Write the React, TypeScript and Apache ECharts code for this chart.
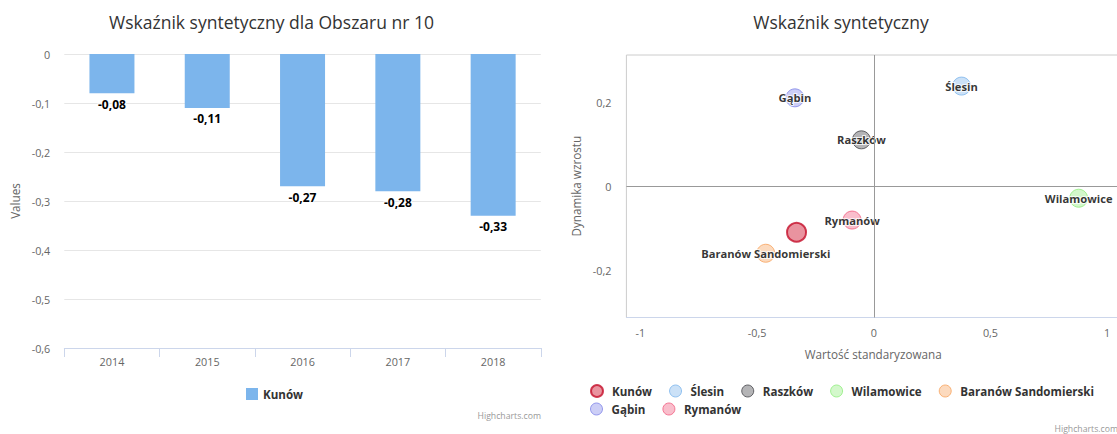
import React, { useEffect, useRef } from 'react';
import * as echarts from 'echarts';

// ---------- data ----------
const years = ['2014', '2015', '2016', '2017', '2018'];
const kunowValues = [-0.08, -0.11, -0.27, -0.28, -0.33];

const towns = ['Kunów', 'Ślesin', 'Raszków', 'Wilamowice', 'Baranów Sandomierski', 'Gąbin', 'Rymanów'];
const standardized = [-0.331, 0.376, -0.053, 0.878, -0.463, -0.338, -0.093];
const growth = [-0.11, 0.238, 0.11, -0.029, -0.16, 0.21, -0.081];
const townColors = ['#c40f2a', '#7cb5ec', '#434348', '#90ed7d', '#f7a35c', '#8085e9', '#f15c80'];
const townFills = [
  'rgba(210,30,55,0.6)',
  'rgba(124,181,236,0.5)',
  'rgba(67,67,72,0.5)',
  'rgba(144,237,125,0.5)',
  'rgba(247,163,92,0.5)',
  'rgba(128,133,233,0.5)',
  'rgba(241,92,128,0.5)',
];
const legendRow1 = ['Kunów', 'Ślesin', 'Raszków', 'Wilamowice', 'Baranów Sandomierski'];
const legendRow2 = ['Gąbin', 'Rymanów'];

const xTickValues = [-1, -0.5, 0, 0.5, 1];
const yTickValues = [-0.2, 0, 0.2];

const FONT = '"Open Sans", sans-serif';
const fmt = (v: number) => String(Number(Number(v).toFixed(2))).replace('.', ',');

export default function App() {
  const leftRef = useRef<HTMLDivElement>(null);
  const rightRef = useRef<HTMLDivElement>(null);

  useEffect(() => {
    const left = echarts.init(leftRef.current!, undefined, { renderer: 'svg' });
    const right = echarts.init(rightRef.current!, undefined, { renderer: 'svg' });

    const titleStyle = { fontFamily: FONT, fontSize: 17.5, fontWeight: 'normal', color: '#333333' };
    const axisLabelStyle = { color: '#666666', fontFamily: FONT, fontSize: 10.8 };
    const axisNameStyle = { color: '#666666', fontFamily: FONT, fontSize: 11.7 };
    const legendText = { fontFamily: FONT, fontSize: 11.6, fontWeight: 'bold', color: '#333333' };

    left.setOption({
      animation: false,
      title: {
        text: 'Wskaźnik syntetyczny dla Obszaru nr 10',
        left: 271.5,
        top: 13,
        padding: 0,
        textAlign: 'center',
        textStyle: titleStyle,
      },
      legend: {
        data: ['Kunów'],
        left: 246,
        top: 388,
        padding: 0,
        icon: 'rect',
        itemWidth: 12,
        itemHeight: 12,
        textStyle: legendText,
      },
      grid: { left: 64.3, top: 54, width: 476.5, height: 294 },
      xAxis: {
        type: 'category',
        data: years,
        axisLine: { onZero: false, lineStyle: { color: '#ccd6eb' } },
        axisTick: { show: true, length: 9, lineStyle: { color: '#ccd6eb' } },
        axisLabel: { ...axisLabelStyle, margin: 8 },
      },
      yAxis: {
        type: 'value',
        min: -0.6,
        max: 0,
        interval: 0.1,
        name: 'Values',
        nameLocation: 'middle',
        nameGap: 43,
        nameRotate: 90,
        nameTextStyle: axisNameStyle,
        axisLine: { show: false },
        axisTick: { show: false },
        splitLine: { lineStyle: { color: '#e6e6e6' } },
        axisLabel: { ...axisLabelStyle, margin: 14, formatter: (v: number) => fmt(v) },
      },
      series: [
        {
          type: 'bar',
          name: 'Kunów',
          data: kunowValues,
          barWidth: 45,
          itemStyle: { color: '#7cb5ec' },
          label: {
            show: true,
            position: 'bottom',
            distance: 5,
            formatter: (p: any) => fmt(p.value),
            fontFamily: FONT,
            fontSize: 12,
            fontWeight: 'bold',
            color: '#000000',
            textBorderColor: '#ffffff',
            textBorderWidth: 2,
          },
        },
      ],
      graphic: [
        {
          type: 'text',
          x: 541,
          y: 416,
          style: {
            text: 'Highcharts.com',
            fill: '#999999',
            font: `8.7px ${FONT}`,
            align: 'right',
            verticalAlign: 'middle',
          },
        },
      ],
    });

    right.setOption({
      animation: false,
      title: {
        text: 'Wskaźnik syntetyczny',
        left: 286,
        top: 13,
        padding: 0,
        textAlign: 'center',
        textStyle: titleStyle,
      },
      legend: [
        {
          data: legendRow1.map((n) => (n === 'Kunów' ? { name: n, itemStyle: { borderWidth: 2 } } : n)),
          left: 35,
          top: 384,
          padding: 0,
          icon: 'circle',
          itemWidth: 20,
          itemHeight: 12,
          itemGap: 17,
          itemStyle: { borderWidth: 1 },
          textStyle: legendText,
        },
        {
          data: legendRow2,
          left: 35,
          top: 402.5,
          padding: 0,
          icon: 'circle',
          itemWidth: 20,
          itemHeight: 12,
          itemGap: 17,
          itemStyle: { borderWidth: 1 },
          textStyle: legendText,
        },
      ],
      grid: {
        left: 71.4,
        top: 55,
        width: 493.6,
        height: 262.5,
        show: true,
        borderColor: '#cccccc',
        borderWidth: 1,
      },
      xAxis: {
        type: 'value',
        min: -1.06,
        max: 1.055,
        name: 'Wartość standaryzowana',
        nameLocation: 'middle',
        nameGap: 30,
        nameTextStyle: axisNameStyle,
        axisLine: { show: true, onZero: false, lineStyle: { color: '#ccd6eb' } },
        axisTick: { show: false },
        splitLine: { show: false },
        axisLabel: {
          ...axisLabelStyle,
          margin: 9,
          customValues: xTickValues,
          formatter: (v: number) => fmt(v),
        },
      },
      yAxis: {
        type: 'value',
        min: -0.313,
        max: 0.312,
        name: 'Dynamika wzrostu',
        nameLocation: 'middle',
        nameGap: 44,
        nameRotate: 90,
        nameTextStyle: axisNameStyle,
        axisLine: { show: false, onZero: false },
        axisTick: { show: false },
        splitLine: { show: false },
        axisLabel: {
          ...axisLabelStyle,
          margin: 15,
          customValues: yTickValues,
          formatter: (v: number) => fmt(v),
        },
      },
      series: towns.map((name, i) => ({
        type: 'scatter',
        name,
        data: [[standardized[i], growth[i]]],
        symbolSize: i === 0 ? 19 : 18,
        itemStyle: {
          color: townFills[i],
          borderColor: townColors[i],
          borderWidth: i === 0 ? 2 : 1,
        },
        label: {
          show: i !== 0,
          position: 'inside',
          formatter: name,
          fontFamily: FONT,
          fontSize: 11.2,
          fontWeight: 'bold',
          color: '#000000',
          textBorderColor: '#ffffff',
          textBorderWidth: 2,
        },
        ...(i === 0
          ? {
              markLine: {
                silent: true,
                symbol: ['none', 'none'],
                label: { show: false },
                lineStyle: { color: '#999999', type: 'solid', width: 1 },
                data: [{ xAxis: 0 }, { yAxis: 0 }],
              },
            }
          : {}),
      })),
      graphic: [
        {
          type: 'text',
          x: 563,
          y: 429,
          style: {
            text: 'Highcharts.com',
            fill: '#999999',
            font: `8.7px ${FONT}`,
            align: 'right',
            verticalAlign: 'middle',
          },
        },
      ],
    });

    return () => {
      left.dispose();
      right.dispose();
    };
  }, []);

  return (
    <div
      style={{
        position: 'fixed',
        left: 0,
        top: 0,
        width: 1117,
        height: 434,
        overflow: 'hidden',
        background: '#ffffff',
      }}
    >
      <div ref={leftRef} style={{ position: 'absolute', left: 0, top: 0, width: 555, height: 434 }} />
      <div ref={rightRef} style={{ position: 'absolute', left: 555, top: 0, width: 575, height: 434 }} />
    </div>
  );
}
